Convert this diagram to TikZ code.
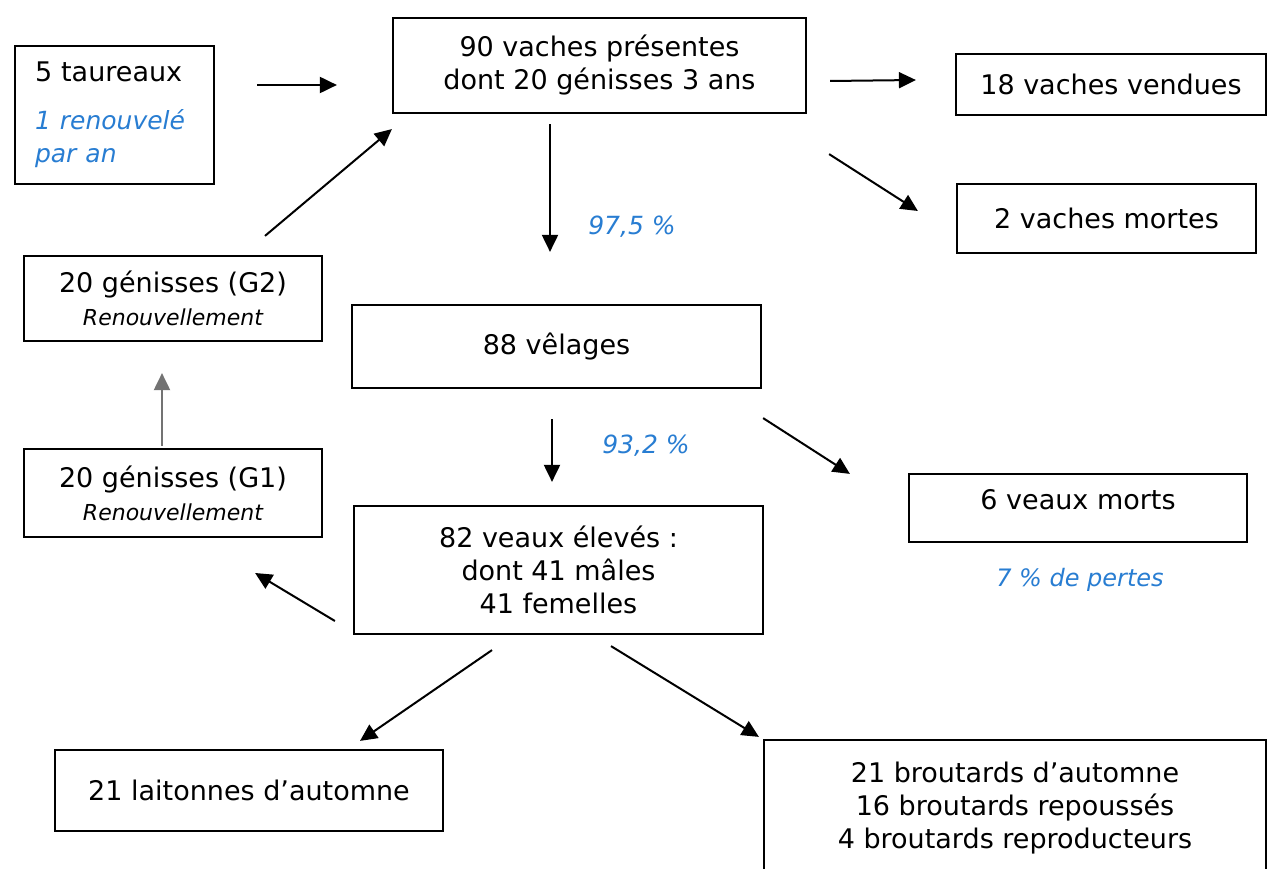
\documentclass[tikz,border=0pt]{standalone}
\usepackage{fontspec}
\setmainfont{DejaVu Sans}
\usetikzlibrary{arrows.meta,calc}
\definecolor{note}{RGB}{40,125,210}
\newcommand{\mainsize}{\fontsize{27}{33}\selectfont}
\newcommand{\subsize}{\fontsize{22}{29}\selectfont}
\newcommand{\notesize}{\fontsize{25}{30}\selectfont}
\tikzset{
  box/.style={draw, line width=2.2pt, inner sep=0pt, align=center, font=\mainsize},
  arr/.style={line width=2pt, -{Triangle[length=17pt,width=16pt]}},
  notetext/.style={text=note, font=\notesize\itshape, inner sep=0pt},
}
\begin{document}
\begin{tikzpicture}[x=1pt,y=-1pt]
\useasboundingbox[fill=white] (0,0) rectangle (1284,869);

% boxes
\node[box, minimum width=199pt, minimum height=138pt, text width=159pt, align=left]
  (taur) at (114.5,115) {5 taureaux\\[18pt]{\color{note}\notesize\itshape 1 renouvelé\\par an}};
\node[box, minimum width=413pt, minimum height=95pt] (vaches) at (599.5,65.5)
  {90 vaches présentes\\dont 20 génisses 3 ans};
\node[box, minimum width=310pt, minimum height=61pt] (vendues) at (1111,84.5) {18 vaches vendues};
\node[box, minimum width=299pt, minimum height=69pt] (mortes) at (1106.5,218.5) {2 vaches mortes};
\node[box, minimum width=298pt, minimum height=85pt] (g2) at (173,298.5)
  {20 génisses (G2)\\{\subsize\itshape Renouvellement}};
\node[box, minimum width=409pt, minimum height=83pt] (velages) at (556.5,346.5) {88 vêlages};
\node[box, minimum width=298pt, minimum height=88pt] (g1) at (173,493)
  {20 génisses (G1)\\{\subsize\itshape Renouvellement}};
\node[box, minimum width=409pt, minimum height=128pt] (veaux) at (558.5,570)
  {82 veaux élevés :\\dont 41 mâles\\41 femelles};
\node[box, minimum width=338pt, minimum height=68pt, text depth=18pt] (vmorts) at (1078,508) {6 veaux morts};
\node[box, minimum width=388pt, minimum height=81pt] (lait) at (249,790.5) {21 laitonnes d’automne};
\node[box, minimum width=502pt, minimum height=137pt] (brout) at (1015,808.5)
  {21 broutards d’automne\\16 broutards repoussés\\4 broutards reproducteurs};

% rates
\node[notetext] (p975) at (632,227) {97,5 \%};
\node[notetext] (p932) at (646,446) {93,2 \%};
\node[notetext, font=\fontsize{24}{29}\selectfont\itshape] (pertes) at (1080,580) {7 \% de pertes};

% flows
\draw[arr] ($(taur.east)+(42,-30)$) -- ($(vaches.west)+(-55,19.5)$);
\draw[arr] ($(vaches.east)+(23,15.5)$) -- ($(vendues.west)+(-39,-4.5)$);
\draw[arr] ($(vaches.south east)+(22,40)$) -- ($(mortes.west)+(-38,-7.5)$);
\draw[arr] ($(vaches.south)+(-49.5,10)$) -- ($(velages.north)+(-6.5,-52)$);
\draw[arr] ($(g2.north)+(92,-19)$) -- ($(vaches.south west)+(0,15)$);
\draw[arr, draw=black!55, fill=black] ($(g1.north)+(-11,-2)$) -- ($(g2.south)+(-11,31)$);
\draw[arr] ($(velages.south)+(-4.5,30)$) -- ($(veaux.north)+(-6.5,-23)$);
\draw[arr] ($(velages.south east)+(1,29)$) -- ($(vmorts.north west)+(-58,1)$);
\draw[arr] ($(veaux.west)+(-18,51)$) -- ($(g1.east)+(-68,80)$);
\draw[arr] ($(veaux.south)+(-66.5,15)$) -- ($(lait.north)+(111,-8)$);
\draw[arr] ($(veaux.south)+(52.5,11)$) -- ($(brout.north west)+(-4,-2)$);
\end{tikzpicture}
\end{document}
